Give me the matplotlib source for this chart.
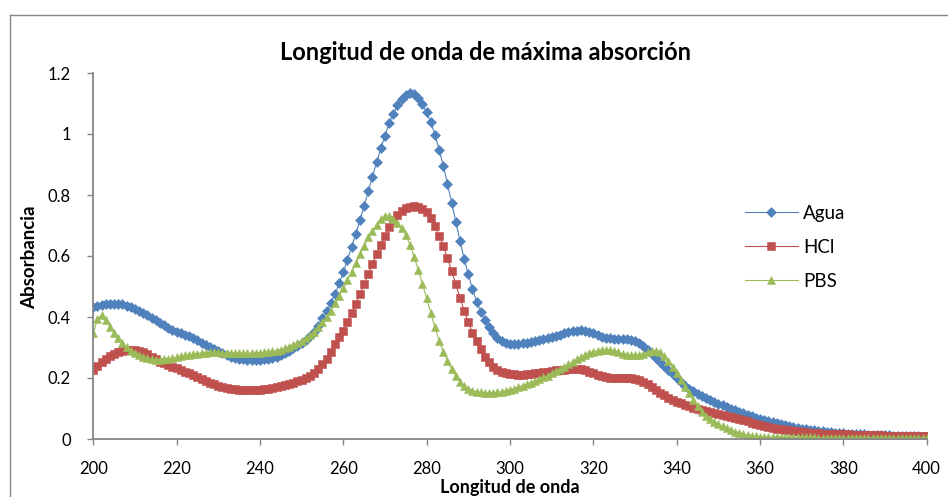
import matplotlib
matplotlib.use("Agg")
import matplotlib.pyplot as plt
from matplotlib.lines import Line2D

# Wavelength grid (nm), 1 nm steps
wavelength = list(range(200, 401))

# Absorbance in water
agua = [
    0.434, 0.437, 0.439, 0.441, 0.442, 0.443, 0.443, 0.441, 0.437, 0.432,  # 200-209
    0.426, 0.420, 0.413, 0.405, 0.397, 0.389, 0.381, 0.373, 0.365, 0.358,  # 210-219
    0.352, 0.347, 0.342, 0.337, 0.331, 0.324, 0.316, 0.309, 0.301, 0.294,  # 220-229
    0.287, 0.281, 0.275, 0.270, 0.266, 0.263, 0.261, 0.260, 0.259, 0.259,  # 230-239
    0.260, 0.261, 0.263, 0.266, 0.270, 0.276, 0.282, 0.289, 0.297, 0.306,  # 240-249
    0.316, 0.326, 0.337, 0.351, 0.370, 0.396, 0.420, 0.445, 0.475, 0.510,  # 250-259
    0.547, 0.588, 0.630, 0.672, 0.718, 0.765, 0.813, 0.860, 0.908, 0.953,  # 260-269
    0.995, 1.035, 1.066, 1.094, 1.115, 1.128, 1.133, 1.130, 1.118, 1.098,  # 270-279
    1.071, 1.038, 0.997, 0.948, 0.895, 0.836, 0.775, 0.713, 0.649, 0.590,  # 280-289
    0.540, 0.491, 0.450, 0.417, 0.390, 0.366, 0.346, 0.332, 0.322, 0.316,  # 290-299
    0.312, 0.311, 0.312, 0.314, 0.316, 0.318, 0.321, 0.324, 0.327, 0.330,  # 300-309
    0.334, 0.338, 0.342, 0.346, 0.350, 0.353, 0.355, 0.356, 0.354, 0.350,  # 310-319
    0.346, 0.341, 0.336, 0.332, 0.330, 0.328, 0.327, 0.327, 0.327, 0.326,  # 320-329
    0.322, 0.314, 0.304, 0.292, 0.278, 0.265, 0.252, 0.239, 0.225, 0.212,  # 330-339
    0.199, 0.186, 0.175, 0.165, 0.156, 0.148, 0.141, 0.134, 0.128, 0.122,  # 340-349
    0.116, 0.111, 0.106, 0.100, 0.095, 0.089, 0.084, 0.079, 0.075, 0.070,  # 350-359
    0.066, 0.062, 0.058, 0.055, 0.051, 0.048, 0.045, 0.042, 0.039, 0.037,  # 360-369
    0.034, 0.032, 0.030, 0.028, 0.026, 0.025, 0.024, 0.022, 0.021, 0.020,  # 370-379
    0.019, 0.018, 0.017, 0.016, 0.016, 0.015, 0.014, 0.014, 0.013, 0.013,  # 380-389
    0.012, 0.012, 0.011, 0.011, 0.010, 0.010, 0.010, 0.009, 0.009, 0.008,  # 390-399
    0.008,                                                                 # 400
]

# Absorbance in HCl
hcl = [
    0.226, 0.240, 0.252, 0.263, 0.271, 0.279, 0.285, 0.290, 0.292, 0.293,
    0.292, 0.289, 0.284, 0.278, 0.270, 0.262, 0.254, 0.248, 0.242, 0.237,
    0.232, 0.227, 0.221, 0.216, 0.210, 0.204, 0.198, 0.191, 0.185, 0.180,
    0.175, 0.171, 0.168, 0.165, 0.163, 0.161, 0.160, 0.160, 0.160, 0.161,
    0.162, 0.163, 0.165, 0.167, 0.170, 0.173, 0.177, 0.181, 0.185, 0.189,
    0.194, 0.199, 0.207, 0.216, 0.229, 0.245, 0.262, 0.284, 0.310, 0.335,
    0.354, 0.384, 0.412, 0.444, 0.475, 0.508, 0.541, 0.574, 0.608, 0.637,
    0.666, 0.695, 0.717, 0.734, 0.748, 0.756, 0.762, 0.764, 0.760, 0.754,
    0.745, 0.725, 0.697, 0.666, 0.633, 0.592, 0.551, 0.507, 0.463, 0.421,
    0.384, 0.347, 0.320, 0.294, 0.270, 0.251, 0.237, 0.227, 0.219, 0.215,
    0.213, 0.212, 0.211, 0.211, 0.212, 0.213, 0.215, 0.217, 0.219, 0.221,
    0.223, 0.225, 0.226, 0.227, 0.228, 0.229, 0.229, 0.228, 0.225, 0.220,
    0.215, 0.210, 0.206, 0.203, 0.201, 0.200, 0.200, 0.201, 0.201, 0.200,
    0.198, 0.193, 0.186, 0.179, 0.170, 0.161, 0.152, 0.143, 0.135, 0.128,
    0.122, 0.117, 0.112, 0.107, 0.102, 0.098, 0.094, 0.091, 0.088, 0.085,
    0.082, 0.079, 0.076, 0.073, 0.070, 0.066, 0.062, 0.058, 0.054, 0.050,
    0.046, 0.043, 0.040, 0.037, 0.034, 0.032, 0.030, 0.028, 0.026, 0.025,
    0.024, 0.022, 0.021, 0.020, 0.019, 0.018, 0.018, 0.017, 0.016, 0.016,
    0.015, 0.015, 0.014, 0.014, 0.013, 0.013, 0.013, 0.012, 0.012, 0.012,
    0.011, 0.011, 0.011, 0.011, 0.010, 0.010, 0.010, 0.010, 0.009, 0.009,
    0.009,
]

# Absorbance in phosphate buffer
pbs = [
    0.346, 0.395, 0.405, 0.390, 0.368, 0.347, 0.330, 0.315, 0.302, 0.290,
    0.281, 0.274, 0.269, 0.265, 0.262, 0.260, 0.260, 0.261, 0.263, 0.265,
    0.268, 0.271, 0.274, 0.276, 0.278, 0.280, 0.282, 0.283, 0.284, 0.284,
    0.284, 0.283, 0.283, 0.282, 0.282, 0.281, 0.281, 0.281, 0.281, 0.282,
    0.283, 0.284, 0.286, 0.288, 0.290, 0.293, 0.297, 0.302, 0.308, 0.315,
    0.322, 0.330, 0.340, 0.352, 0.366, 0.384, 0.401, 0.420, 0.446, 0.470,
    0.494, 0.520, 0.548, 0.576, 0.606, 0.634, 0.661, 0.682, 0.702, 0.720,
    0.730, 0.731, 0.722, 0.708, 0.693, 0.669, 0.636, 0.597, 0.554, 0.508,
    0.461, 0.412, 0.366, 0.322, 0.286, 0.257, 0.228, 0.205, 0.188, 0.175,
    0.165, 0.159, 0.155, 0.153, 0.152, 0.152, 0.152, 0.153, 0.155, 0.158,
    0.161, 0.165, 0.170, 0.175, 0.180, 0.185, 0.190, 0.196, 0.202, 0.208,
    0.215, 0.222, 0.229, 0.237, 0.245, 0.253, 0.261, 0.268, 0.275, 0.281,
    0.286, 0.289, 0.291, 0.292, 0.291, 0.288, 0.284, 0.280, 0.277, 0.275,
    0.275, 0.277, 0.280, 0.284, 0.288, 0.289, 0.284, 0.272, 0.256, 0.236,
    0.215, 0.194, 0.172, 0.150, 0.128, 0.108, 0.090, 0.077, 0.066, 0.056,
    0.048, 0.041, 0.035, 0.029, 0.024, 0.019, 0.016, 0.013, 0.011, 0.009,
    0.008, 0.007, 0.007, 0.006, 0.006, 0.006, 0.006, 0.005, 0.005, 0.005,
    0.005, 0.005, 0.005, 0.005, 0.004, 0.004, 0.004, 0.004, 0.004, 0.004,
    0.004, 0.004, 0.004, 0.004, 0.004, 0.004, 0.004, 0.004, 0.004, 0.004,
    0.004, 0.004, 0.004, 0.004, 0.004, 0.004, 0.004, 0.004, 0.004, 0.004,
    0.004,
]

series_names = ["Agua", "HCl", "PBS"]
x_ticks = [200, 220, 240, 260, 280, 300, 320, 340, 360, 380, 400]
y_ticks = [0, 0.2, 0.4, 0.6, 0.8, 1.0, 1.2]
y_tick_labels = ["0", "0.2", "0.4", "0.6", "0.8", "1", "1.2"]

plt.rcParams["font.family"] = ["Lato", "DejaVu Sans"]

W, H = 948, 497
fig = plt.figure(figsize=(W / 100, H / 100), dpi=100)
fig.patch.set_facecolor("white")

x0, x1 = 93.3, 926.7
y0, y1 = 439.0, 73.0
ax = fig.add_axes([x0 / W, 1 - y0 / H, (x1 - x0) / W, (y0 - y1) / H])
ax.set_facecolor("none")

# outer chart frame (left and top edges)
frame_col = "#868686"
fig.add_artist(Line2D([10 / W, 10 / W], [0, 1 - 15 / H], transform=fig.transFigure,
                      color=frame_col, lw=1.0))
fig.add_artist(Line2D([10 / W, 1], [1 - 15 / H, 1 - 15 / H], transform=fig.transFigure,
                      color=frame_col, lw=1.0))

styles = [
    ("#4F81BD", "D", 4.8),
    ("#C0504D", "s", 5.4),
    ("#9BBB59", "^", 6.2),
]
for name, vals, (col, mk, ms) in zip(series_names, [agua, hcl, pbs], styles):
    ax.plot(wavelength, vals, color=col, lw=0.8,
            marker=mk, markersize=ms, markerfacecolor=col,
            markeredgecolor=col, markeredgewidth=0.4, label=name)

ax.set_xlim(200, 400)
ax.set_ylim(0, 1.2)
ax.set_xticks(x_ticks)
ax.set_yticks(y_ticks)
ax.set_yticklabels(y_tick_labels)

for side in ["top", "right"]:
    ax.spines[side].set_visible(False)
for side in ["left", "bottom"]:
    ax.spines[side].set_color(frame_col)
    ax.spines[side].set_linewidth(1.3)
ax.tick_params(axis="both", direction="out", length=4, width=1.0, color=frame_col,
               labelsize=12, labelcolor="black")
ax.tick_params(axis="x", pad=12)
ax.tick_params(axis="y", pad=12)

fig.text(486 / W, 1 - 52 / H, "Longitud de onda de máxima absorción",
         ha="center", va="center", fontsize=17, fontweight="bold")
fig.text(30 / W, 1 - 257 / H, "Absorbancia", rotation=90, ha="center", va="center",
         fontsize=13.5, fontweight="bold")
fig.text(510 / W, 1 - 487 / H, "Longitud de onda", ha="center", va="center",
         fontsize=13, fontweight="bold")

ax.legend(loc="upper left", bbox_to_anchor=(0.773, 0.66), frameon=False,
          fontsize=13.5, handlelength=2.8, labelspacing=0.9, handletextpad=0.3,
          borderaxespad=0)

fig.savefig("out.png", dpi=100, facecolor="white")
